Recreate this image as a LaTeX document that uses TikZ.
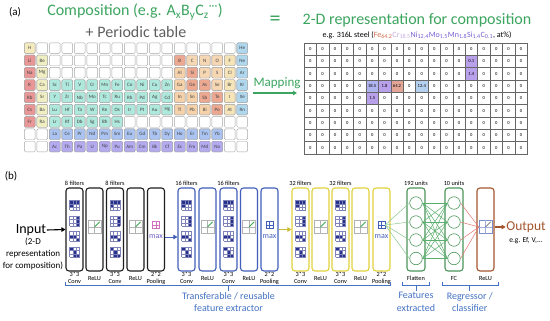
\documentclass[tikz,border=0pt]{standalone}
\usepackage{fontspec}
\setmainfont{Carlito}
\usepackage{xcolor}
\usepackage{tikz}
\usetikzlibrary{arrows.meta,positioning,calc}
\definecolor{TitleGreen}{RGB}{60,165,95}
\definecolor{TitleGray}{RGB}{95,95,95}
\definecolor{PTh}{RGB}{244,236,190}
\definecolor{PTa}{RGB}{232,150,150}
\definecolor{PTe}{RGB}{240,238,195}
\definecolor{PTt}{RGB}{175,232,220}
\definecolor{PTp}{RGB}{245,210,170}
\definecolor{PTm}{RGB}{236,168,145}
\definecolor{PTn}{RGB}{246,215,180}
\definecolor{PTx}{RGB}{246,228,185}
\definecolor{PTg}{RGB}{175,215,238}
\definecolor{PTl}{RGB}{170,195,240}
\definecolor{PTc}{RGB}{180,170,240}
\definecolor{ValPurple}{RGB}{185,160,235}
\definecolor{ValBlue}{RGB}{175,180,240}
\definecolor{ValRed}{RGB}{228,165,150}
\definecolor{ValSky}{RGB}{180,210,240}
\definecolor{FeCol}{RGB}{215,110,80}
\definecolor{CrCol}{RGB}{200,170,230}
\definecolor{AlloyCol}{RGB}{120,95,210}
\definecolor{LayBlack}{RGB}{30,30,30}
\definecolor{LayBlue}{RGB}{65,95,185}
\definecolor{LayYellow}{RGB}{225,210,60}
\definecolor{LayGreen}{RGB}{75,150,90}
\definecolor{LayBrown}{RGB}{165,85,45}
\definecolor{FiltNavy}{RGB}{40,50,140}
\definecolor{ReluGreen}{RGB}{60,170,80}
\definecolor{PoolPink}{RGB}{210,110,190}
\definecolor{MaxPurple}{RGB}{110,95,200}
\definecolor{BrText}{RGB}{68,114,196}
\definecolor{LineGreen}{RGB}{140,200,145}
\definecolor{FCGreen}{RGB}{90,175,110}
\definecolor{LineRed}{RGB}{225,120,110}

% cells of the 2-D grid that hold a value
\tikzset{
  val-2-14/.style={fill=ValPurple,node contents={0.1}},
  val-3-14/.style={fill=ValPurple,node contents={1.4}},
  val-4-6/.style={fill=ValBlue,node contents={18.5}},
  val-4-7/.style={fill=ValPurple,node contents={1.8}},
  val-4-8/.style={fill=ValRed,node contents={64.2}},
  val-4-10/.style={fill=ValSky,node contents={12.4}},
  val-5-6/.style={fill=ValPurple,node contents={1.5}}}

% one row piece of the periodic table: row, first column, symbol/kind list
\newcommand{\ptrow}[3]{%
  \foreach \el/\cat [count=\k from #2] in {#3}
    \node[elem,fill=PT\cat] (pt-#1-\k) at ({23.5+12.5*(\k-0.5)},{42+12.3*(#1-0.5)}) {\el};}

% 3x3 filter icon: layer node, vertical offset, filled cells row/col
\newcommand{\filtericon}[3]{%
  \begin{scope}[shift={(#1)},shift={(0,#2)}]
    \fill[white] (-5,-5) rectangle (5,5);
    \foreach \a/\b in {#3}
      \fill[FiltNavy] ({-5+10/3*(\b-1)},{-5+10/3*(\a-1)}) rectangle ++(10/3,10/3);
    \foreach \u in {0,1,2,3}{
      \draw[FiltNavy!60,line width=0.25pt] ({-5+10/3*\u},-5) -- ++(0,10);
      \draw[FiltNavy!60,line width=0.25pt] (-5,{-5+10/3*\u}) -- ++(10,0);}
  \end{scope}}

\begin{document}
\begin{tikzpicture}[x=1pt,y=-1pt,
  elem/.style={draw=gray!70,rounded corners=1.2pt,line width=0.4pt,minimum width=10.8pt,
    minimum height=10.6pt,inner sep=0pt,font=\fontsize{5}{5}\selectfont,text=black!75},
  cell/.style={draw=gray!80!black,line width=0.35pt,minimum width=12.4pt,minimum height=12.3pt,
    inner sep=0pt,font=\fontsize{4.6}{5}\selectfont},
  layer/.style={draw,rounded corners=3pt,line width=1.1pt,minimum width=17pt,
    minimum height=83pt,inner sep=0pt,fill=white},
  unit/.style={circle,draw=LayGreen,line width=0.6pt,minimum size=12.5pt,inner sep=0pt},
  small/.style={font=\fontsize{6.3}{6.6}\selectfont,inner sep=0.5pt,align=center},
  brlab/.style={text=BrText,font=\fontsize{10}{12.5}\selectfont,align=center,inner sep=0.5pt},
  bracket/.style={BrText,line width=0.6pt},
  reluicon/.style={draw=gray!60,line width=0.4pt,minimum size=13pt,inner sep=0pt,fill=white},
  poolicon/.style={draw,line width=0.4pt,minimum size=7pt,inner sep=0pt},
  tip/.style={-{Triangle[length=4pt,width=4.5pt]}}]
\useasboundingbox[fill=white] (0,0) rectangle (550,321);

% (a) titles
\node[font=\fontsize{11}{13}\selectfont] (lbla) at (15,12) {(a)};
\node[text=TitleGreen,font=\fontsize{16}{19}\selectfont] (comp) at (135,12)
  {Composition (e.g. A\textsubscript{x}B\textsubscript{y}C\textsubscript{z}\textsuperscript{···})};
\node[text=TitleGray,font=\fontsize{16}{19}\selectfont] (ptab) at (136,32) {+ Periodic table};
\node[text=TitleGreen,font=\fontsize{22}{24}\selectfont] (eq) at (275,21) {=};
\node[text=TitleGreen,font=\fontsize{16}{19}\selectfont] (rep) at (417,20) {2-D representation for composition};
\node[font=\fontsize{8}{9}\selectfont] (steel) at (417,35) {e.g. 316L steel (\textcolor{FeCol}{Fe\textsubscript{64.2}}%
  \textcolor{CrCol}{Cr\textsubscript{18.5}}\textcolor{AlloyCol}{Ni\textsubscript{12.4}Mo\textsubscript{1.5}%
  Mn\textsubscript{1.8}Si\textsubscript{1.4}C\textsubscript{0.1}}, at\%)};

% periodic table
\foreach \r in {1,...,9}
  \foreach \c in {1,...,18}
    \node[elem,fill=white] (blank-\r-\c) at ({23.5+12.5*(\c-0.5)},{42+12.3*(\r-0.5)}) {};
\ptrow{1}{1}{H/h}
\ptrow{1}{18}{He/g}
\ptrow{2}{1}{Li/a,Be/e}
\ptrow{2}{13}{B/m,C/n,N/n,O/n,F/x,Ne/g}
\ptrow{3}{1}{Na/a,Mg/e}
\ptrow{3}{13}{Al/p,Si/m,P/n,S/n,Cl/x,Ar/g}
\ptrow{4}{1}{K/a,Ca/e,Sc/t,Ti/t,V/t,Cr/t,Mn/t,Fe/t,Co/t,Ni/t,Cu/t,Zn/t,Ga/p,Ge/m,As/m,Se/n,Br/x,Kr/g}
\ptrow{5}{1}{Rb/a,Sr/e,Y/t,Zr/t,Nb/t,Mo/t,Tc/t,Ru/t,Rh/t,Pd/t,Ag/t,Cd/t,In/p,Sn/p,Sb/m,Te/m,I/x,Xe/g}
\ptrow{6}{1}{Cs/a,Ba/e,Lu/t,Hf/t,Ta/t,W/t,Re/t,Os/t,Ir/t,Pt/t,Au/t,Hg/t,Tl/p,Pb/p,Bi/p,Po/m,At/x,Rn/g}
\ptrow{7}{1}{Fr/a,Ra/e,Lr/t,Rf/t,Db/t,Sg/t,Bh/t,Hs/t}
\ptrow{8}{3}{La/l,Ce/l,Pr/l,Nd/l,Pm/l,Sm/l,Eu/l,Gd/l,Tb/l,Dy/l,Ho/l,Er/l,Tm/l,Yb/l}
\ptrow{9}{3}{Ac/c,Th/c,Pa/c,U/c,Np/c,Pu/c,Am/c,Cm/c,Bk/c,Cf/c,Es/c,Fm/c,Md/c,No/c}

% mapping
\node[text=TitleGreen,font=\fontsize{13}{15}\selectfont,inner sep=0pt] (map) at (277,83) {Mapping};
\coordinate (mapfrom) at (253,93);
\coordinate (mapto) at (297,93);
\draw[TitleGreen,line width=1.3pt,tip] (mapfrom) -- (mapto);

% 2-D grid
\foreach \r in {1,...,9}
  \foreach \c in {1,...,18}
    \node[cell,name=g-\r-\c,at={({304+12.4*(\c-0.5)},{43+12.3*(\r-0.5)})},node contents={0},val-\r-\c/.try];

% (b) network
\node[font=\fontsize{11}{13}\selectfont] (lblb) at (11,176) {(b)};
\node[font=\fontsize{14}{16}\selectfont,inner sep=0.5pt] (input) at (31,230) {Input};
\node[font=\fontsize{9}{12}\selectfont,align=center] (inputdesc) at (33,254)
  {(2-D\\representation\\for composition)};

\foreach \x/\col [count=\i] in {74.5/LayBlack,94.5/LayBlack,115/LayBlack,135.5/LayBlack,156/LayBlack,
    186.5/LayBlue,207.5/LayBlue,228.5/LayBlue,249/LayBlue,269.5/LayBlue,
    300.5/LayYellow,320.5/LayYellow,340.5/LayYellow,360.5/LayYellow,381.5/LayYellow}
  \node[layer,draw=\col] (L\i) at (\x,229.5) {};
\node[layer,draw=LayGreen,minimum width=18pt] (flat) at (416,229.5) {};
\node[layer,draw=LayGreen,minimum width=18pt] (fc) at (454,229.5) {};
\node[layer,draw=LayBrown] (rl) at (485.5,229.5) {};

\foreach \i in {1,3,6,8,11,13}{
  \filtericon{L\i}{-24}{1/1,1/2,1/3,2/1}
  \filtericon{L\i}{-8.5}{1/3,2/3,3/3}
  \filtericon{L\i}{7}{2/1,2/2,3/3}
  \filtericon{L\i}{22.5}{1/1,2/2,3/2,3/3}}

\foreach \i in {2,4,7,9,12,14}{
  \node[reluicon] (relu\i) at ([yshift=2.5pt]L\i.center) {};
  \draw[gray!60,line width=0.3pt] (relu\i.north) -- (relu\i.south) (relu\i.west) -- (relu\i.east);
  \draw[ReluGreen,line width=0.8pt] (relu\i.center) -- ([shift={(-1.5pt,-1.5pt)}]relu\i.north east);}
\node[reluicon,draw=LayBlue!70] (reluout) at ([yshift=2.5pt]rl.center) {};
\draw[LayBlue!50,line width=0.3pt] (reluout.north) -- (reluout.south) (reluout.west) -- (reluout.east);
\draw[black!70,line width=0.7pt] (reluout.center) -- ([shift={(-1.5pt,-1.5pt)}]reluout.north east);

\foreach \i/\gc/\mc in {5/PoolPink/MaxPurple,10/LayBlue/LayBlue,15/LayBlue/LayBlue}{
  \node[poolicon,draw=\gc] (pool\i) at ([yshift=4.5pt]L\i.center) {};
  \draw[\gc,line width=0.4pt] (pool\i.north) -- (pool\i.south) (pool\i.west) -- (pool\i.east);
  \node[text=\mc,font=\fontsize{8}{9}\selectfont,inner sep=0pt] (max\i) at ([yshift=-7.5pt]L\i.center) {max};}

% labels
\foreach \i/\nf in {1/8,3/8,6/16,8/16,11/32,13/32}
  \node[small,above=1pt] (nf\i) at (L\i.north) {\nf\ filters};
\node[small,above=1pt] (nflat) at (flat.north) {192 units};
\node[small,above=1pt] (nfc) at (fc.north) {10 units};
\foreach \i in {1,3,6,8,11,13}
  \node[small] (lab\i) at ([yshift=-6.5pt]L\i.south) {3*3\\Conv};
\foreach \i in {2,4,7,9,12,14}
  \node[small] (lab\i) at ([yshift=-6.5pt]L\i.south) {ReLU};
\foreach \i in {5,10,15}
  \node[small] (lab\i) at ([yshift=-6.5pt]L\i.south) {2*2\\Pooling};
\node[small] (labflat) at ([yshift=-6.5pt]flat.south) {Flatten};
\node[small] (labfc) at ([yshift=-6.5pt]fc.south) {FC};
\node[small] (labrl) at ([yshift=-6.5pt]rl.south) {ReLU};

% units
\foreach \j/\y in {1/203,2/222,3/240,4/258.5}{
  \node[unit] (f\j) at (416,\y) {};
  \node[unit] (c\j) at (454,\y) {};}
\foreach \j in {1,...,4}
  \draw[LineGreen,line width=0.5pt] (pool15.east) -- (f\j.west);
\foreach \j in {1,...,4}
  \foreach \k in {1,...,4}
    \draw[FCGreen,line width=0.5pt] (f\j.east) -- (c\k.west);
\foreach \k in {1,...,4}
  \draw[LineRed,line width=0.5pt] (c\k.east) -- (reluout.west);

% arrows
\draw[black,line width=1.1pt,tip] (input.east) -- (L1.west);
\draw[LayBlue,line width=0.9pt,tip] (max5.east -| L5.east) -- (max5.east -| L6.west);
\draw[LayYellow!90!black,line width=0.9pt,tip] (L10.east) -- (L11.west);
\node[text=LayBrown,font=\fontsize{13.5}{15}\selectfont,inner sep=0.5pt] (output) at (526,227) {Output};
\node[font=\fontsize{7.5}{9}\selectfont,inner sep=0.5pt,below=3pt of output] (outdesc) {e.g. Ef, V,...};
\draw[LayBrown,line width=1.1pt,tip] (reluout.east -| rl.east) -- (output.west);

% brackets
\draw[bracket] ([yshift=-10pt]L1.south west) -- ([yshift=-14pt]L1.south west)
  -- ([yshift=-14pt]L15.south east) -- ([yshift=-10pt]L15.south east);
\coordinate (fetick) at ([yshift=-19pt]L8.south);
\draw[bracket] ([yshift=-14pt]L8.south) -- (fetick);
\node[brlab,below=1pt of fetick] (felab) {Transferable / reusable\\feature extractor};

\draw[bracket] ([shift={(-4pt,-10pt)}]flat.south west) -- ([shift={(-4pt,-14pt)}]flat.south west)
  -- ([shift={(4pt,-14pt)}]flat.south east) -- ([shift={(4pt,-10pt)}]flat.south east);
\coordinate (fxtick) at ([yshift=-19pt]flat.south);
\draw[bracket] ([yshift=-14pt]flat.south) -- (fxtick);
\node[brlab,below=1pt of fxtick] (fxlab) {Features\\extracted};

\draw[bracket] ([shift={(-2pt,-10pt)}]fc.south west) -- ([shift={(-2pt,-14pt)}]fc.south west)
  -- ([shift={(4pt,-14pt)}]rl.south east) -- ([shift={(4pt,-10pt)}]rl.south east);
\coordinate (rgtick) at ($([yshift=-19pt]fc.south)!0.5!([yshift=-19pt]rl.south)$);
\draw[bracket] ([yshift=5pt]rgtick) -- (rgtick);
\node[brlab,below=1pt of rgtick] (rglab) {Regressor /\\classifier};
\end{tikzpicture}
\end{document}
